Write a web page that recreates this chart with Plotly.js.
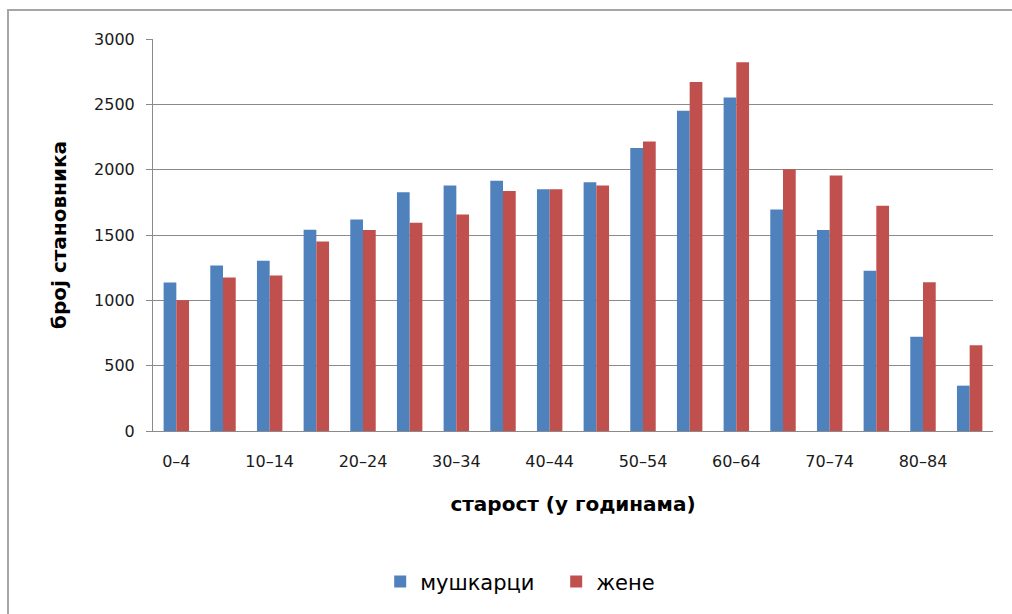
<!DOCTYPE html>
<html>
<head>
<meta charset="utf-8">
<script src="https://cdn.plot.ly/plotly-3.0.1.min.js"></script>
<style>
  html, body { margin: 0; padding: 0; background: #ffffff; }
  #chart { width: 1012px; height: 614px; }
</style>
</head>
<body>
<div id="chart"></div>
<script>
// Age groups (five-year bands)
const ageGroups = [
  '0–4', '5–9', '10–14', '15–19', '20–24', '25–29', '30–34', '35–39', '40–44',
  '45–49', '50–54', '55–59', '60–64', '65–69', '70–74', '75–79', '80–84', '85+'
];

// Population by age group
const men   = [1136, 1267, 1302, 1541, 1618, 1828, 1879, 1915, 1851, 1904, 2165, 2450, 2552, 1695, 1539, 1227, 722, 347];
const women = [1000, 1174, 1190, 1450, 1539, 1593, 1656, 1837, 1851, 1878, 2215, 2670, 2823, 2004, 1955, 1723, 1139, 656];

const seriesNames = ['мушкарци', 'жене'];
const yTicks = [0, 500, 1000, 1500, 2000, 2500, 3000];

// every other age band gets a label
const labelledGroups = ageGroups.filter((_, i) => i % 2 === 0);

const FONT = 'DejaVu Sans, Verdana, sans-serif';
const GRID = '#8a8a8a';

const traces = [
  { type: 'bar', name: seriesNames[0], x: ageGroups, y: men,   marker: { color: '#4f81bd', line: { width: 0 } } },
  { type: 'bar', name: seriesNames[1], x: ageGroups, y: women, marker: { color: '#c0504d', line: { width: 0 } } }
];

const layout = {
  width: 1012,
  height: 614,
  margin: { l: 153, r: 19, t: 39, b: 183, pad: 0 },
  paper_bgcolor: '#ffffff',
  plot_bgcolor: '#ffffff',
  font: { family: FONT, color: '#000000', size: 16 },
  barmode: 'group',
  bargap: 0.455,
  bargroupgap: 0,
  showlegend: true,
  legend: {
    orientation: 'h',
    x: 0.480, xanchor: 'center',
    y: -0.385, yanchor: 'middle',
    font: { family: FONT, size: 21, color: '#000000' },
    itemwidth: 30,
    entrywidth: 131,
    bgcolor: 'rgba(0,0,0,0)'
  },
  xaxis: {
    type: 'category',
    tickmode: 'array',
    tickvals: labelledGroups,
    ticktext: labelledGroups,
    ticks: '',
    ticklabelstandoff: 16,
    tickfont: { family: FONT, size: 16, color: '#1a1a1a' },
    showline: true,
    linecolor: GRID,
    linewidth: 1,
    showgrid: false,
    automargin: false,
    fixedrange: true,
    title: {
      text: 'старост (у годинама)',
      font: { family: FONT, size: 20, color: '#000000', weight: 'bold' },
      standoff: 26
    }
  },
  yaxis: {
    range: [0, 3000],
    tickmode: 'array',
    tickvals: yTicks,
    ticks: 'outside',
    ticklen: 6,
    tickcolor: GRID,
    ticklabelstandoff: 8,
    tickfont: { family: FONT, size: 16, color: '#1a1a1a' },
    showline: true,
    linecolor: GRID,
    linewidth: 1,
    showgrid: true,
    gridcolor: GRID,
    gridwidth: 1,
    zeroline: false,
    automargin: false,
    fixedrange: true,
    title: {
      text: 'број становника',
      font: { family: FONT, size: 20, color: '#000000', weight: 'bold' },
      standoff: 22
    }
  },
  shapes: [
    // outer chart frame
    {
      type: 'rect', xref: 'paper', yref: 'paper',
      x0: (8 - 153) / 840, x1: (1030 - 153) / 840,
      y0: (431 - 640) / 392, y1: (431 - 10) / 392,
      line: { color: '#a6a6a6', width: 2 },
      fillcolor: 'rgba(0,0,0,0)',
      layer: 'below'
    }
  ]
};

Plotly.newPlot('chart', traces, layout, { displayModeBar: false, staticPlot: true });
</script>
</body>
</html>
